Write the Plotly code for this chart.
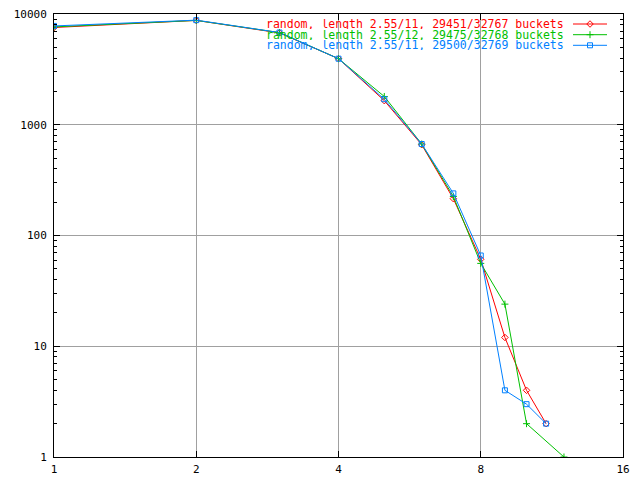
import plotly.graph_objects as go

# chain length (x) and number of buckets (y)
len_red = [1, 2, 3, 4, 5, 6, 7, 8, 9, 10, 11]
cnt_red = [7550, 8750, 6750, 3950, 1650, 660, 215, 61, 12, 4, 2]
len_green = [1, 2, 3, 4, 5, 6, 7, 8, 9, 10, 12]
cnt_green = [7650, 8750, 6800, 3950, 1800, 670, 225, 56, 24, 2, 1]
len_blue = [1, 2, 3, 4, 5, 6, 7, 8, 9, 10, 11]
cnt_blue = [7800, 8800, 6800, 3950, 1700, 670, 240, 66, 4, 3, 2]

names = ["random, length 2.55/11, 29451/32767 buckets",
         "random, length 2.55/12, 29475/32768 buckets",
         "random, length 2.55/11, 29500/32769 buckets"]
colors = ["#ff0000", "#00c000", "#0080ff"]
symbols = ["diamond-open", "cross-thin-open", "square-open"]
x_ticks = [1, 2, 4, 8, 16]
y_ticks = [1, 10, 100, 1000, 10000]
y_minor = [m * 10 ** k for k in range(4) for m in range(2, 10)]

FONT = "DejaVu Sans Mono"
L, R, T, B = 54, 623, 14, 457
fig = go.Figure()
series = [(len_red, cnt_red), (len_green, cnt_green), (len_blue, cnt_blue)]
for (xs, ys), n, c, s in zip(series, names, colors, symbols):
    fig.add_trace(go.Scatter(x=xs, y=ys, name=n, mode="lines+markers",
                             line=dict(color=c, width=1),
                             marker=dict(symbol=s, size=5, color=c, line=dict(color=c, width=1)),
                             showlegend=False))

# legend drawn gnuplot-style (text right-aligned, sample on the right)
row_y = [24, 34.7, 45.3]
for n, c, s, yy in zip(names, colors, symbols, row_y):
    yp = (B - yy) / (B - T)
    fig.add_annotation(xref="paper", yref="paper", x=(566 - L) / (R - L), y=yp,
                       text=n, showarrow=False, xanchor="right", yanchor="middle",
                       height=10, valign="middle",
                       font=dict(family=FONT, size=11.5, color=c))
    fig.add_shape(type="line", xref="paper", yref="paper",
                  x0=(573 - L) / (R - L), x1=(607 - L) / (R - L), y0=yp, y1=yp,
                  line=dict(color=c, width=1))
    fig.add_trace(go.Scatter(x=[0.5], y=[yp], xaxis="x2", yaxis="y2",
                             mode="markers", showlegend=False, hoverinfo="skip",
                             marker=dict(symbol=s, size=5, color=c, line=dict(color=c, width=1))))

mid = ((573 + 607) / 2 - L) / (R - L)
fig.update_layout(
    width=640, height=480, margin=dict(l=L, r=640 - R, t=T, b=480 - B, autoexpand=False),
    paper_bgcolor="white", plot_bgcolor="white",
    font=dict(family=FONT, size=11, color="black"),
    xaxis=dict(type="log", range=[0, 1.20412], tickvals=x_ticks, ticktext=[str(v) for v in x_ticks],
               ticks="inside", ticklen=6, tickcolor="black", showline=True, linecolor="black",
               linewidth=1, mirror="ticks", showgrid=True, gridcolor="#a0a0a0", gridwidth=1,
               zeroline=False, ticklabelstandoff=2, automargin=False),
    yaxis=dict(type="log", range=[0, 4], tickvals=y_ticks, ticktext=[str(v) for v in y_ticks],
               ticks="inside", ticklen=6, tickcolor="black", showline=True, linecolor="black",
               linewidth=1, mirror="allticks", showgrid=True, gridcolor="#a0a0a0", gridwidth=1,
               zeroline=False, ticklabelstandoff=4, automargin=False,
               minor=dict(tickvals=y_minor, ticks="inside", ticklen=3, tickcolor="black",
                          showgrid=False)),
    xaxis2=dict(overlaying="x", range=[0.5 - mid, 1.5 - mid], visible=False, automargin=False),
    yaxis2=dict(overlaying="y", range=[0, 1], visible=False, automargin=False),
)

fig.write_html("out.html", config={"displayModeBar": False},
               post_script="document.body.style.margin='0';document.body.style.padding='0';")
